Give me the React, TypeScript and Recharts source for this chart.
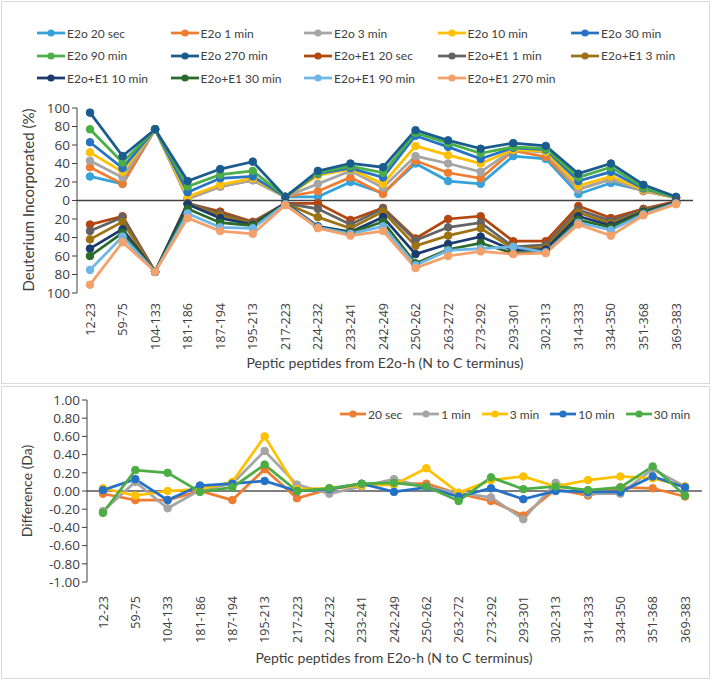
import { LineChart, Line, XAxis, YAxis, Legend, ReferenceLine, Label } from "recharts";

const peptides = [
  "12-23", "59-75", "104-133", "181-186", "187-194", "195-213", "217-223",
  "224-232", "233-241", "242-249", "250-262", "263-272", "273-292", "293-301",
  "302-313", "314-333", "334-350", "351-368", "369-383",
];

// top panel: deuterium incorporated (%), E2o+E1 values are drawn downwards
const e2o20sec = [26, 18, 77, 2, 16, 22, 4, 4, 20, 8, 40, 21, 18, 48, 45, 7, 19, 11, 3];
const e2o1min = [36, 18, 77, 2, 15, 22, 4, 10, 25, 7, 43, 30, 24, 54, 47, 12, 23, 10, 3];
const e2o3min = [43, 25, 77, 2, 15, 22, 4, 18, 32, 14, 48, 40, 31, 55, 52, 12, 23, 11, 3];
const e2o10min = [52, 31, 77, 4, 17, 24, 4, 27, 34, 18, 59, 49, 40, 55, 53, 16, 26, 12, 3];
const e2o30min = [63, 35, 77, 9, 24, 26, 4, 29, 35, 25, 70, 58, 45, 57, 55, 21, 31, 13, 3];
const e2o90min = [77, 41, 77, 15, 28, 32, 4, 30, 37, 30, 73, 62, 51, 58, 56, 25, 36, 14, 3];
const e2o270min = [95, 48, 77, 21, 34, 42, 4, 32, 40, 36, 76, 65, 56, 62, 59, 29, 40, 17, 4];
const e1_20sec = [-26, -17, -77, -3, -12, -23, -3, -3, -21, -8, -41, -20, -17, -44, -44, -6, -19, -9, -1];
const e1_1min = [-33, -18, -77, -3, -14, -24, -3, -9, -26, -9, -43, -29, -24, -50, -48, -10, -22, -10, -2];
const e1_3min = [-42, -23, -77, -4, -16, -25, -3, -18, -30, -12, -49, -38, -30, -52, -51, -13, -25, -11, -2];
const e1_10min = [-52, -31, -77, -4, -19, -26, -3, -28, -34, -18, -58, -47, -39, -54, -53, -17, -27, -12, -2];
const e1_30min = [-60, -35, -77, -9, -24, -27, -4, -29, -35, -23, -68, -53, -46, -57, -56, -21, -29, -13, -3];
const e1_90min = [-75, -39, -77, -14, -29, -30, -4, -29, -36, -28, -70, -54, -52, -50, -56, -24, -32, -15, -3];
const e1_270min = [-91, -45, -77, -19, -33, -36, -5, -30, -38, -33, -73, -60, -55, -58, -57, -26, -38, -16, -4];

// bottom panel: difference (Da)
const diff20sec = [-0.03, -0.1, -0.1, 0.0, -0.1, 0.24, -0.08, 0.02, 0.07, 0.08, 0.08, -0.03, -0.11, -0.27, 0.02, -0.05, 0.04, 0.03, -0.06];
const diff1min = [-0.22, 0.1, -0.19, 0.01, 0.08, 0.44, 0.07, -0.03, 0.05, 0.13, 0.04, -0.02, -0.07, -0.31, 0.09, -0.03, -0.03, 0.24, 0.05];
const diff3min = [0.03, -0.05, 0.0, 0.02, 0.1, 0.6, 0.02, 0.03, 0.06, 0.07, 0.25, -0.02, 0.12, 0.16, 0.05, 0.12, 0.16, 0.14, 0.05];
const diff10min = [0.01, 0.13, -0.1, 0.06, 0.08, 0.11, 0.0, 0.02, 0.08, -0.01, 0.04, -0.06, 0.03, -0.09, 0.0, -0.01, -0.01, 0.16, 0.04];
const diff30min = [-0.24, 0.23, 0.2, -0.01, 0.04, 0.29, 0.0, 0.03, 0.08, 0.09, 0.05, -0.11, 0.15, 0.02, 0.05, 0.01, 0.04, 0.27, -0.05];

const pctTicks = [-100, -80, -60, -40, -20, 0, 20, 40, 60, 80, 100];
const daTicks = [-1, -0.8, -0.6, -0.4, -0.2, 0, 0.2, 0.4, 0.6, 0.8, 1];

const topSeries = [
  { key: "s0", name: "E2o 20 sec", values: e2o20sec, color: "#35A2DA" },
  { key: "s1", name: "E2o 1 min", values: e2o1min, color: "#EF7D31" },
  { key: "s2", name: "E2o 3 min", values: e2o3min, color: "#A5A5A5" },
  { key: "s3", name: "E2o 10 min", values: e2o10min, color: "#FFC000" },
  { key: "s4", name: "E2o 30 min", values: e2o30min, color: "#2673C4" },
  { key: "s5", name: "E2o 90 min", values: e2o90min, color: "#4BAF48" },
  { key: "s6", name: "E2o 270 min", values: e2o270min, color: "#1A5C8E" },
  { key: "s7", name: "E2o+E1 20 sec", values: e1_20sec, color: "#B4460F" },
  { key: "s8", name: "E2o+E1 1 min", values: e1_1min, color: "#636363" },
  { key: "s9", name: "E2o+E1 3 min", values: e1_3min, color: "#9D7212" },
  { key: "s10", name: "E2o+E1 10 min", values: e1_10min, color: "#1B3B6F" },
  { key: "s11", name: "E2o+E1 30 min", values: e1_30min, color: "#2A6A2A" },
  { key: "s12", name: "E2o+E1 90 min", values: e1_90min, color: "#6EB6E6" },
  { key: "s13", name: "E2o+E1 270 min", values: e1_270min, color: "#F4A06B" },
];

const diffSeries = [
  { key: "d0", name: "20 sec", values: diff20sec, color: "#ED7D31" },
  { key: "d1", name: "1 min", values: diff1min, color: "#A5A5A5" },
  { key: "d2", name: "3 min", values: diff3min, color: "#FFC000" },
  { key: "d3", name: "10 min", values: diff10min, color: "#2472C8" },
  { key: "d4", name: "30 min", values: diff30min, color: "#4CAD44" },
];

const buildRows = (series: typeof topSeries) =>
  peptides.map((name, i) => {
    const row: Record<string, string | number> = { name };
    series.forEach((s) => {
      row[s.key] = s.values[i];
    });
    return row;
  });

const topData = buildRows(topSeries);
const diffData = buildRows(diffSeries);

const FONT = "Lato, 'Open Sans', sans-serif";
const TICK_FONT = "'Open Sans', sans-serif";
const TEXT = "#404040";

const LegendMark = ({ name, color, width }: { name: string; color: string; width: number }) => (
  <div style={{ display: "flex", alignItems: "center", height: 22.5 }}>
    <svg width={width} height={10}>
      <line x1={0} y1={5} x2={width} y2={5} stroke={color} strokeWidth={2.75} />
      <circle cx={width / 2} cy={5} r={3.6} fill={color} />
    </svg>
    <span style={{ marginLeft: 2, fontSize: 12, fontFamily: FONT, color: TEXT, whiteSpace: "nowrap" }}>{name}</span>
  </div>
);

const TopLegend = () => (
  <div style={{ display: "grid", gridTemplateColumns: "repeat(5, 133.5px)", gridAutoRows: "22.5px" }}>
    {topSeries.map((s) => (
      <LegendMark key={s.key} name={s.name} color={s.color} width={28} />
    ))}
  </div>
);

const DiffLegend = () => (
  <div style={{ display: "flex", gap: 11 }}>
    {diffSeries.map((s) => (
      <LegendMark key={s.key} name={s.name} color={s.color} width={26} />
    ))}
  </div>
);

const RotatedTick = (props: any) => {
  const { x, y, payload } = props;
  return (
    <g transform={`translate(${x},${y})`}>
      <text
        transform="rotate(-90)"
        textAnchor="end"
        dominantBaseline="central"
        fill={TEXT}
        fontSize={12.5}
        fontFamily={TICK_FONT}
      >
        {payload.value}
      </text>
    </g>
  );
};

const lineFor = (s: { key: string; name: string; color: string }) => (
  <Line
    key={s.key}
    dataKey={s.key}
    name={s.name}
    type="linear"
    stroke={s.color}
    strokeWidth={2.75}
    dot={{ r: 3.8, fill: s.color, stroke: s.color, strokeWidth: 1 }}
    activeDot={false}
    isAnimationActive={false}
  />
);

const panelBox = (top: number, height: number) => ({
  position: "absolute" as const,
  left: 1,
  top,
  width: 709,
  height,
  border: "1.5px solid #d9d9d9",
  boxSizing: "border-box" as const,
});

export default function App() {
  return (
    <div style={{ position: "fixed", left: 0, top: 0, width: 713, height: 681, background: "#fff" }}>
      <div style={panelBox(1, 383)} />
      <div style={panelBox(386, 293)} />

      <div style={{ position: "absolute", left: 0, top: 0 }}>
        <LineChart width={713} height={383} data={topData} margin={{ top: 108, right: 20, bottom: 0, left: 0 }}>
          <Legend
            layout="horizontal"
            verticalAlign="middle"
            align="center"
            content={<TopLegend />}
            wrapperStyle={{ left: 37, top: 22, width: 670 }}
          />
          <XAxis
            dataKey="name"
            interval={0}
            height={90}
            padding={{ left: 13, right: 17 }}
            axisLine={false}
            tickLine={false}
            tickMargin={4}
            tick={<RotatedTick />}
          >
            <Label
              content={() => (
                <text x={385} y={362} textAnchor="middle" dominantBaseline="central" fill={TEXT} fontSize={14} fontFamily={FONT}>
                  Peptic peptides from E2o-h (N to C terminus)
                </text>
              )}
            />
          </XAxis>
          <YAxis
            width={77}
            domain={[-100, 100]}
            ticks={pctTicks}
            interval={0}
            tickFormatter={(v: number) => String(Math.abs(v))}
            stroke={TEXT}
            tickSize={5}
            tick={{ fill: TEXT, fontSize: 13.5, fontFamily: TICK_FONT }}
          >
            <Label
              content={() => (
                <text
                  x={28}
                  y={200}
                  transform="rotate(-90 28 200)"
                  textAnchor="middle"
                  dominantBaseline="central"
                  fill={TEXT}
                  fontSize={15}
                  fontFamily={FONT}
                >
                  Deuterium Incorporated (%)
                </text>
              )}
            />
          </YAxis>
          <ReferenceLine y={0} stroke="#404040" strokeWidth={1.5} />
          {topSeries.map(lineFor)}
        </LineChart>
      </div>

      <div style={{ position: "absolute", left: 0, top: 386 }}>
        <LineChart width={713} height={292} data={diffData} margin={{ top: 14, right: 11, bottom: 0, left: 0 }}>
          <Legend
            layout="horizontal"
            verticalAlign="middle"
            align="center"
            content={<DiffLegend />}
            wrapperStyle={{ left: 340, top: 17, width: 370 }}
          />
          <XAxis
            dataKey="name"
            interval={0}
            height={96}
            padding={{ left: 16, right: 17 }}
            axisLine={false}
            tickLine={false}
            tickMargin={8}
            tick={<RotatedTick />}
          >
            <Label
              content={() => (
                <text x={394} y={271} textAnchor="middle" dominantBaseline="central" fill={TEXT} fontSize={14} fontFamily={FONT}>
                  Peptic peptides from E2o-h (N to C terminus)
                </text>
              )}
            />
          </XAxis>
          <YAxis
            width={87}
            domain={[-1, 1]}
            ticks={daTicks}
            interval={0}
            tickFormatter={(v: number) => v.toFixed(2)}
            stroke={TEXT}
            tickSize={5}
            tick={{ fill: TEXT, fontSize: 13.5, fontFamily: TICK_FONT }}
          >
            <Label
              content={() => (
                <text
                  x={26}
                  y={105}
                  transform="rotate(-90 26 105)"
                  textAnchor="middle"
                  dominantBaseline="central"
                  fill={TEXT}
                  fontSize={14}
                  fontFamily={FONT}
                >
                  Difference (Da)
                </text>
              )}
            />
          </YAxis>
          <ReferenceLine y={0} stroke="#000" strokeWidth={1.2} />
          {diffSeries.map(lineFor)}
        </LineChart>
      </div>
    </div>
  );
}
